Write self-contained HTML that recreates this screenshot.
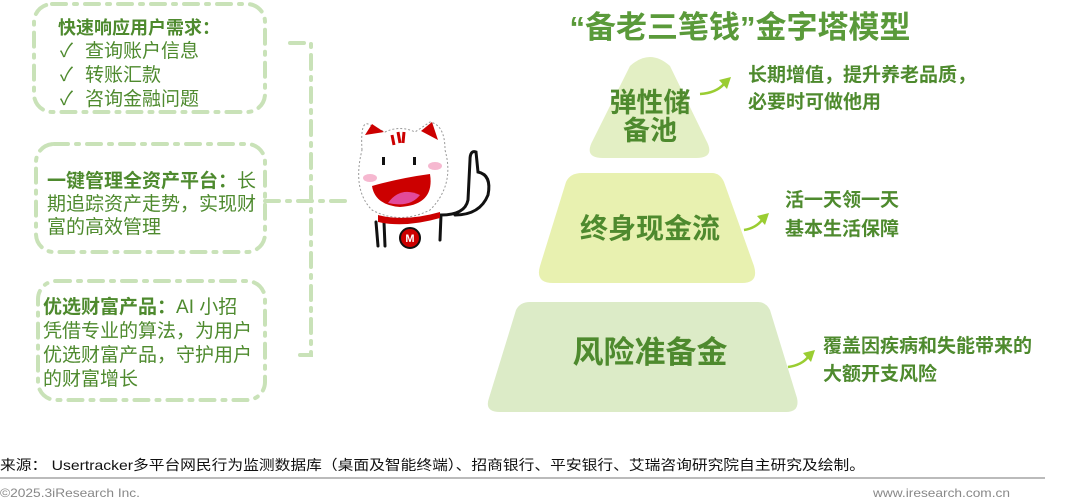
<!DOCTYPE html>
<html><head><meta charset="utf-8"><style>
html,body{margin:0;padding:0;background:#fff;width:1080px;height:502px;overflow:hidden}
svg{display:block}
text{font-family:"Liberation Sans","Noto Sans CJK SC",sans-serif}
</style></head><body>
<svg width="1080" height="502" viewBox="0 0 1080 502" xmlns="http://www.w3.org/2000/svg">
<g fill="none" stroke="#c9e2b8" stroke-width="4" stroke-dasharray="14,8,3,8" stroke-linecap="round">
<rect x="34" y="4" width="231" height="108" rx="18"/>
<rect x="36" y="144" width="229" height="108" rx="18"/>
<rect x="38" y="281" width="227" height="119" rx="18"/>
<path d="M290 43 H311 V355 H298"/>
<path d="M265 201 H345"/>
</g>
<g fill="#4e8a2e" font-size="19">
<text x="58" y="34" font-weight="bold" font-size="18">快速响应用户需求：</text>
<text x="60" y="57">✓</text><text x="85" y="57">查询账户信息</text>
<text x="60" y="81">✓</text><text x="85" y="81">转账汇款</text>
<text x="60" y="105">✓</text><text x="85" y="105">咨询金融问题</text>
<text x="47" y="187"><tspan font-weight="bold">一键管理全资产平台：</tspan>长</text>
<text x="47" y="210">期追踪资产走势，实现财</text>
<text x="47" y="233">富的高效管理</text>
<text x="43" y="313"><tspan font-weight="bold">优选财富产品：</tspan>AI 小招</text>
<text x="43" y="337">凭借专业的算法，为用户</text>
<text x="43" y="361">优选财富产品，守护用户</text>
<text x="43" y="385">的财富增长</text>
</g>
<!-- cat -->
<g stroke="#111" stroke-width="3" fill="none" stroke-linecap="round">
<path d="M378 246 L376 222"/><path d="M385 246 L384 222"/>
<path d="M440 240 L441 215 Q465 215 468 200 L470 160 Q470 150 476 152 L478 172 Q492 175 488 195 Q480 215 455 215"/>
</g>
<path d="M362 150 Q360 118 370 125 L385 132 Q400 125 415 132 L430 122 Q445 125 445 150 Q455 185 430 210 Q400 225 372 210 Q352 190 362 150Z" fill="#fff" stroke="#999" stroke-width="1" stroke-dasharray="2,2"/>
<path d="M365 135 L372 124 L384 132Z M421 131 L432 122 L438 140Z" fill="#c00"/>
<path d="M392 135 l2 10 M398 132 l2 11 M404 132 l-1 11" stroke="#c00" stroke-width="3"/>
<rect x="382" y="157" width="3" height="8" fill="#111"/><rect x="413" y="157" width="3" height="8" fill="#111"/>
<ellipse cx="370" cy="178" rx="7" ry="4" fill="#f6b8d0"/><ellipse cx="435" cy="166" rx="7" ry="4" fill="#f6b8d0"/>
<path d="M372 186 Q400 178 430 174 Q435 205 400 207 Q375 205 372 186Z" fill="#c00"/>
<path d="M388 203 Q400 186 420 195 Q410 208 388 203Z" fill="#e24a9a"/>
<path d="M378 215 Q405 222 440 212 L440 218 Q405 228 378 222Z" fill="#c00"/>
<circle cx="410" cy="238" r="10" fill="#c00" stroke="#111" stroke-width="2"/>
<text x="410" y="242" font-size="11" font-weight="bold" fill="#fff" text-anchor="middle">M</text>
<!-- pyramid -->
<text x="740" y="38" font-size="31" font-weight="bold" fill="#5a9a3a" text-anchor="middle">“备老三笔钱”金字塔模型</text>
<path d="M630 66 Q650 48 670 66 L706 140 Q716 158 696 158 L603 158 Q583 158 593 140Z" fill="#e3efc4"/>
<path d="M582 173 L712 173 Q720 173 724 182 L754 266 Q759 283 742 283 L553 283 Q535 283 540 266 L566 182 Q570 173 582 173Z" fill="#e8f1b0"/>
<path d="M530 302 L758 302 Q766 302 770 310 L797 398 Q800 412 786 412 L500 412 Q484 412 489 398 L516 310 Q520 302 530 302Z" fill="#dcebc7"/>
<g fill="#4e8a2e" font-weight="bold" text-anchor="middle">
<text x="650" y="112" font-size="27">弹性储</text>
<text x="650" y="140" font-size="27">备池</text>
<text x="650" y="238" font-size="28">终身现金流</text>
<text x="650" y="363" font-size="31">风险准备金</text>
</g>
<g fill="#4e8a2e" font-weight="bold" font-size="19">
<text x="748" y="81">长期增值，提升养老品质，</text>
<text x="748" y="108">必要时可做他用</text>
<text x="785" y="206">活一天领一天</text>
<text x="785" y="235">基本生活保障</text>
<text x="823" y="352">覆盖因疾病和失能带来的</text>
<text x="823" y="380">大额开支风险</text>
</g>
<g stroke="#9acd32" stroke-width="2.5" fill="none">
<path d="M700 94 Q716 93 724 84"/><path d="M744 230 Q756 228 762 220"/><path d="M788 367 Q802 365 808 357"/>
</g>
<g fill="#9acd32">
<path d="M719 80 L731 77 L727 89Z"/><path d="M757 216 L769 213 L765 225Z"/><path d="M803 353 L815 350 L811 362Z"/>
</g>
<!-- footer -->
<text x="0" y="470" font-size="14" fill="#111" textLength="865" lengthAdjust="spacingAndGlyphs">来源： Usertracker多平台网民行为监测数据库（桌面及智能终端）、招商银行、平安银行、艾瑞咨询研究院自主研究及绘制。</text>
<rect x="0" y="477" width="1045" height="2" fill="#bbb"/>
<text x="0" y="497" font-size="12" fill="#888" textLength="140" lengthAdjust="spacingAndGlyphs">©2025.3iResearch Inc.</text>
<text x="873" y="497" font-size="12" fill="#888" textLength="137" lengthAdjust="spacingAndGlyphs">www.iresearch.com.cn</text>
</svg>
</body></html>
